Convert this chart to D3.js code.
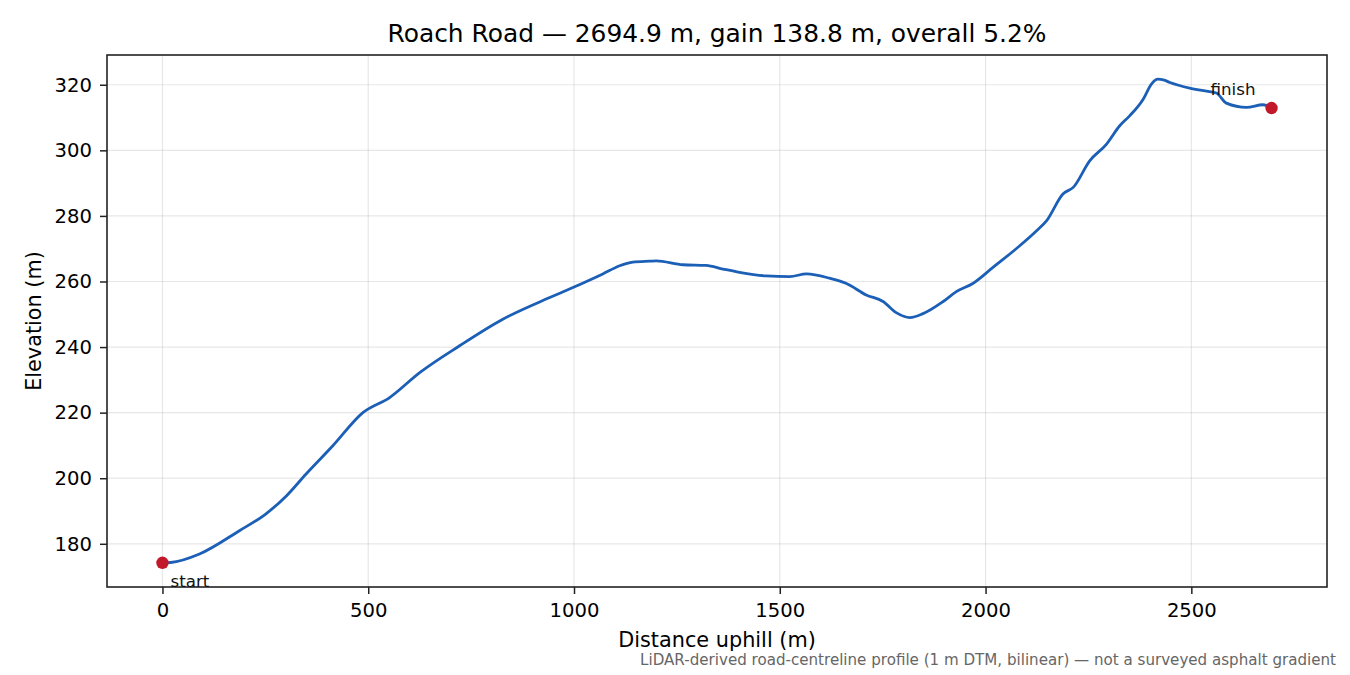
<!DOCTYPE html>
<html><head><meta charset="utf-8">
<script src="https://cdn.jsdelivr.net/npm/d3@7"></script>
<style>body{margin:0;background:#fff;} svg{display:block;font-family:"DejaVu Sans",sans-serif;}</style>
</head><body>
<svg id="c" width="1350" height="675"></svg>
<script>
const distance = [0, 20, 90, 187, 250, 301, 349, 414, 487, 552, 625, 722, 827, 941, 989, 1070, 1111, 1143, 1184, 1200, 1265, 1321, 1362, 1402, 1467, 1524, 1565, 1621, 1662, 1710, 1751, 1783, 1816, 1848, 1897, 1929, 1969, 2018, 2083, 2124, 2148, 2188, 2213, 2253, 2294, 2326, 2350, 2383, 2403, 2419, 2432, 2448, 2496, 2529, 2561, 2585, 2634, 2674, 2694.9];
const elevation = [174.2, 174.3, 176.9, 184.0, 189.0, 194.6, 201.3, 209.9, 220.0, 224.6, 232.2, 240.4, 248.5, 255.1, 257.7, 262.3, 264.8, 265.9, 266.2, 266.3, 265.1, 264.9, 263.8, 262.8, 261.7, 261.5, 262.3, 261.0, 259.4, 255.9, 253.9, 250.5, 249.0, 250.2, 253.9, 256.9, 259.4, 264.3, 270.9, 275.5, 278.5, 286.7, 288.7, 296.8, 301.9, 307.5, 310.5, 315.6, 320.2, 321.7, 321.5, 320.7, 319.0, 318.2, 317.5, 314.4, 313.1, 313.9, 312.9];
const xTicks = [0, 500, 1000, 1500, 2000, 2500];
const yTicks = [180, 200, 220, 240, 260, 280, 300, 320];
const titleText = "Roach Road — 2694.9 m, gain 138.8 m, overall 5.2%";
const footText = "LiDAR-derived road-centreline profile (1 m DTM, bilinear) — not a surveyed asphalt gradient";

const svg = d3.select("#c");
const L = 107, R = 1327, T = 55, B = 587;
const xmin = d3.min(distance), xmax = d3.max(distance);
const ymin = d3.min(elevation), ymax = d3.max(elevation);
const xp = (xmax - xmin) * 0.05, yp = (ymax - ymin) * 0.05;
const x = d3.scaleLinear().domain([xmin - xp, xmax + xp]).range([L, R]);
const y = d3.scaleLinear().domain([ymin - yp, ymax + yp]).range([B, T]);

// grid
const g = svg.append("g");
g.selectAll(".gx").data(xTicks).enter().append("line")
  .attr("x1", d => x(d)).attr("x2", d => x(d)).attr("y1", T).attr("y2", B)
  .attr("stroke", "#b0b0b0").attr("stroke-opacity", 0.3).attr("stroke-width", 1.2);
g.selectAll(".gy").data(yTicks).enter().append("line")
  .attr("y1", d => y(d)).attr("y2", d => y(d)).attr("x1", L).attr("x2", R)
  .attr("stroke", "#b0b0b0").attr("stroke-opacity", 0.3).attr("stroke-width", 1.2);

// axes
const xa = svg.append("g").attr("transform", `translate(0,${B})`)
  .call(d3.axisBottom(x).tickValues(xTicks).tickSize(7).tickPadding(9).tickFormat(d3.format("d")));
const ya = svg.append("g").attr("transform", `translate(${L},0)`)
  .call(d3.axisLeft(y).tickValues(yTicks).tickSize(7).tickPadding(8).tickFormat(d3.format("d")));
[xa, ya].forEach(a => {
  a.select(".domain").remove();
  a.selectAll("text").attr("font-size", 19.6).attr("fill", "#000").attr("font-family", "DejaVu Sans");
  a.selectAll("line").attr("stroke", "#222").attr("stroke-width", 1.5);
});

// line
const line = d3.line().x((d, i) => x(distance[i])).y((d, i) => y(elevation[i])).curve(d3.curveMonotoneX);
svg.append("path").datum(elevation).attr("d", line)
  .attr("fill", "none").attr("stroke", "#1c5fb6").attr("stroke-width", 2.8)
  .attr("stroke-linejoin", "round").attr("stroke-linecap", "round");

// frame
svg.append("rect").attr("x", L).attr("y", T).attr("width", R - L).attr("height", B - T)
  .attr("fill", "none").attr("stroke", "#222").attr("stroke-width", 1.6);

// endpoints
const n = distance.length - 1;
svg.append("circle").attr("cx", x(distance[0])).attr("cy", y(elevation[0])).attr("r", 6.2).attr("fill", "#c1192a");
svg.append("circle").attr("cx", x(distance[n])).attr("cy", y(elevation[n])).attr("r", 6.2).attr("fill", "#c1192a");
svg.append("text").attr("x", x(distance[0]) + 8).attr("y", y(elevation[0]) + 24)
  .attr("font-size", 16.7).attr("fill", "#111").text("start");
svg.append("text").attr("x", x(distance[n]) - 16).attr("y", y(elevation[n]) - 13)
  .attr("font-size", 16.7).attr("fill", "#111").attr("text-anchor", "end").text("finish");

// labels
svg.append("text").attr("x", (L + R) / 2).attr("y", 42).attr("text-anchor", "middle")
  .attr("font-size", 24.9).attr("fill", "#000").text(titleText);
svg.append("text").attr("x", (L + R) / 2).attr("y", 647).attr("text-anchor", "middle")
  .attr("font-size", 20.8).attr("fill", "#000").text("Distance uphill (m)");
svg.append("text").attr("transform", `translate(41,${(T + B) / 2}) rotate(-90)`).attr("text-anchor", "middle")
  .attr("font-size", 20.8).attr("fill", "#000").text("Elevation (m)");
svg.append("text").attr("x", 1336).attr("y", 665).attr("text-anchor", "end")
  .attr("font-size", 15.1).attr("fill", "#666").text(footText);
</script>
</body></html>
